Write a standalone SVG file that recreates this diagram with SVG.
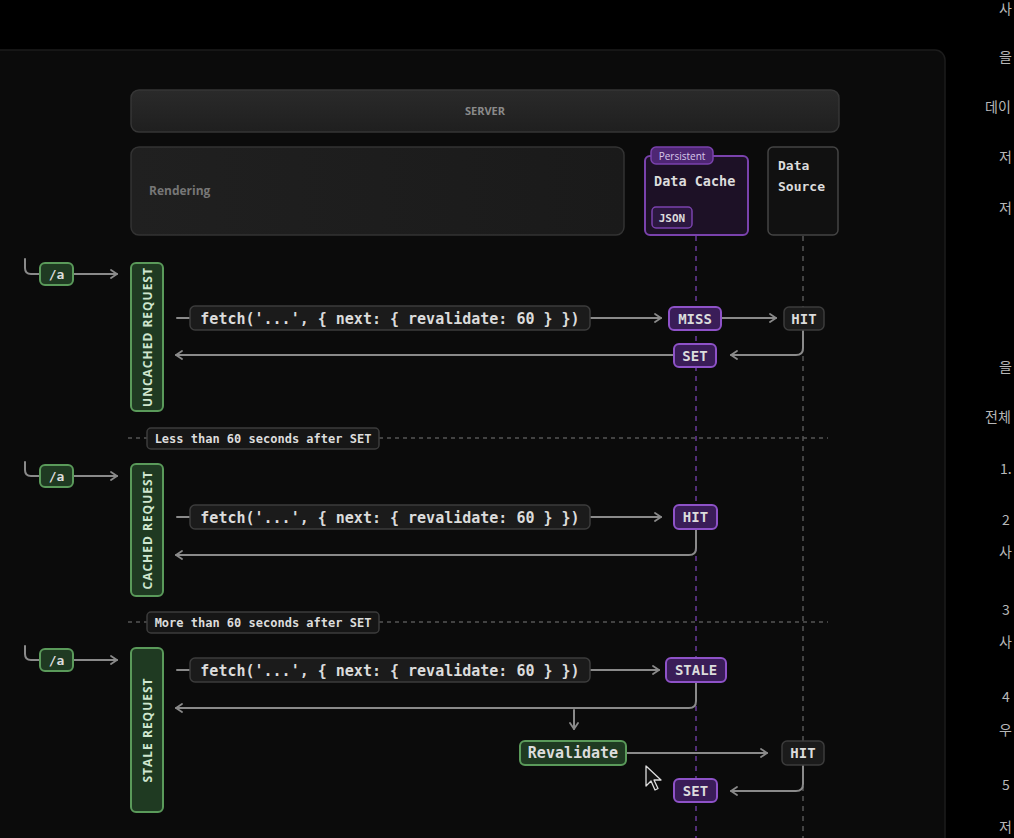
<svg xmlns="http://www.w3.org/2000/svg" width="1014" height="838" viewBox="0 0 1014 838">
<defs>
<marker id="arr" viewBox="0 0 10 10" refX="9" refY="5" markerWidth="10" markerHeight="10" markerUnits="userSpaceOnUse" orient="auto">
<path d="M3,1 L9,5 L3,9" fill="none" stroke="#8a8a8a" stroke-width="1.8" stroke-linecap="round" stroke-linejoin="round"/>
</marker>
<linearGradient id="srv" x1="0" y1="0" x2="0" y2="1">
<stop offset="0" stop-color="#2a2a2a"/><stop offset="1" stop-color="#1f1f1f"/>
</linearGradient>
<linearGradient id="rend" x1="0" y1="0" x2="1" y2="0">
<stop offset="0" stop-color="#202020"/><stop offset="1" stop-color="#1a1a1a"/>
</linearGradient>
</defs>
<style>
.mono{font-family:"DejaVu Sans Mono","Liberation Mono",monospace;font-weight:bold;fill:#dcdcdc}
.sans{font-family:"Open Sans","Liberation Sans",sans-serif;font-weight:bold}
.line{fill:none;stroke:#8a8a8a;stroke-width:2;stroke-linecap:round}
.grn{fill:#1f3a22;stroke:#5a9a5a;stroke-width:2}
.pur{fill:#3a1d58;stroke:#8e52c8;stroke-width:2}
.gry{fill:#1b1b1b;stroke:#3c3c3c;stroke-width:1.5}
.vlab{font-family:"Open Sans","Liberation Sans",sans-serif;font-weight:bold;font-size:12px;fill:#cfe6cf;letter-spacing:1px}
.kr{font-family:"Noto Sans CJK KR",sans-serif;font-size:14px;fill:#b8b8b8}
</style>
<rect width="1014" height="838" fill="#000"/>
<rect x="-12" y="50" width="957" height="810" rx="10" fill="#0b0b0b" stroke="#1c1c1c" stroke-width="1.5"/>

<g id="side-text">
<text class="kr" x="999" y="14">사</text>
<text class="kr" x="999" y="62">을</text>
<text class="kr" x="985" y="112">데이</text>
<text class="kr" x="999" y="162">저</text>
<text class="kr" x="999" y="213">저</text>
<text class="kr" x="999" y="372">을</text>
<text class="kr" x="985" y="422">전체</text>
<text class="kr" x="1000" y="474">1.</text>
<text class="kr" x="1002" y="525">2</text>
<text class="kr" x="999" y="557">사</text>
<text class="kr" x="1002" y="615">3</text>
<text class="kr" x="999" y="647">사</text>
<text class="kr" x="1002" y="702">4</text>
<text class="kr" x="999" y="735">우</text>
<text class="kr" x="1002" y="790">5</text>
<text class="kr" x="999" y="832">저</text>
</g>

<g id="lifelines">
<line x1="696" y1="236" x2="696" y2="838" stroke="#6a3a9a" stroke-width="1.5" stroke-dasharray="5 5"/>
<line x1="803" y1="236" x2="803" y2="838" stroke="#555" stroke-width="1.5" stroke-dasharray="5 5"/>
</g>

<g id="server">
<rect x="131" y="90" width="708" height="42" rx="8" fill="url(#srv)" stroke="#363636" stroke-width="1.5"/>
<text class="sans" x="485" y="115" font-size="11" fill="#8a8a8a" text-anchor="middle">SERVER</text>
</g>
<g id="rendering">
<rect x="131" y="147" width="493" height="88" rx="8" fill="url(#rend)" stroke="#333" stroke-width="1.5"/>
<text class="sans" x="149" y="195" font-size="12" fill="#777">Rendering</text>
</g>
<g id="data-cache">
<rect x="645" y="156" width="103" height="79" rx="5" fill="#1d1126" stroke="#7a42ad" stroke-width="2"/>
<rect x="651" y="147" width="62" height="17" rx="5" fill="#4e2673" stroke="#7a42ad" stroke-width="1.5"/>
<text x="682" y="159.5" font-family="Open Sans,Liberation Sans,sans-serif" font-size="10" fill="#d8c8ea" text-anchor="middle">Persistent</text>
<text class="mono" x="654" y="186" font-size="13.5">Data Cache</text>
<rect x="652" y="207" width="40" height="21" rx="4" fill="#2c1840" stroke="#7a42ad" stroke-width="1.5"/>
<text class="mono" x="672" y="222" font-size="11" text-anchor="middle" fill="#cfc0e0">JSON</text>
</g>
<g id="data-source">
<rect x="768" y="147" width="70" height="88" rx="5" fill="#111" stroke="#444" stroke-width="1.5"/>
<text class="mono" x="778" y="170" font-size="13">Data</text>
<text class="mono" x="778" y="191" font-size="13">Source</text>
</g>

<g id="connectors">
<path class="line" d="M25,259 L25,268 Q25,274 31,274 L40,274"/>
<line class="line" x1="73" y1="274" x2="117" y2="274" marker-end="url(#arr)"/>
<line class="line" x1="177" y1="318" x2="190" y2="318"/>
<line class="line" x1="590" y1="318" x2="661" y2="318" marker-end="url(#arr)"/>
<line class="line" x1="721" y1="318" x2="776" y2="318" marker-end="url(#arr)"/>
<path class="line" d="M803,330 L803,348 Q803,355 796,355 L731,355" marker-end="url(#arr)"/>
<line class="line" x1="674" y1="355" x2="176" y2="355" marker-end="url(#arr)"/>

<path class="line" d="M25,462 L25,470 Q25,476 31,476 L40,476"/>
<line class="line" x1="73" y1="476" x2="117" y2="476" marker-end="url(#arr)"/>
<line class="line" x1="177" y1="517" x2="190" y2="517"/>
<line class="line" x1="590" y1="517" x2="661" y2="517" marker-end="url(#arr)"/>
<path class="line" d="M696,529 L696,548 Q696,555 689,555 L176,555" marker-end="url(#arr)"/>

<path class="line" d="M25,646 L25,654 Q25,660 31,660 L40,660"/>
<line class="line" x1="73" y1="660" x2="117" y2="660" marker-end="url(#arr)"/>
<line class="line" x1="177" y1="670" x2="190" y2="670"/>
<line class="line" x1="590" y1="670" x2="659" y2="670" marker-end="url(#arr)"/>
<path class="line" d="M696,682 L696,701 Q696,708 689,708 L176,708" marker-end="url(#arr)"/>
<line class="line" x1="574" y1="710" x2="574" y2="729" marker-end="url(#arr)"/>
<line class="line" x1="626" y1="753" x2="767" y2="753" marker-end="url(#arr)"/>
<path class="line" d="M803,765 L803,784 Q803,791 796,791 L731,791" marker-end="url(#arr)"/>

<line x1="128" y1="438" x2="147" y2="438" stroke="#555" stroke-width="1.5" stroke-dasharray="4 4"/>
<line x1="379" y1="438" x2="828" y2="438" stroke="#555" stroke-width="1.5" stroke-dasharray="4 4"/>
<line x1="128" y1="622" x2="147" y2="622" stroke="#555" stroke-width="1.5" stroke-dasharray="4 4"/>
<line x1="379" y1="622" x2="828" y2="622" stroke="#555" stroke-width="1.5" stroke-dasharray="4 4"/>
</g>

<g id="sep1">
<rect x="147" y="428" width="232" height="21" rx="4" fill="#161616" stroke="#3c3c3c" stroke-width="1.5"/>
<text class="mono" x="263" y="442.5" font-size="12" text-anchor="middle" fill="#cccccc">Less than 60 seconds after SET</text>
</g>
<g id="sep2">
<rect x="147" y="612" width="232" height="21" rx="4" fill="#161616" stroke="#3c3c3c" stroke-width="1.5"/>
<text class="mono" x="263" y="626.5" font-size="12" text-anchor="middle" fill="#cccccc">More than 60 seconds after SET</text>
</g>

<g id="row1-path">
<rect class="grn" x="40" y="263" width="33" height="22" rx="5"/>
<text class="mono" x="56.5" y="279" font-size="13" text-anchor="middle" fill="#cfe6cf">/a</text>
</g>
<g id="uncached-request">
<rect class="grn" x="131" y="263" width="32" height="148" rx="5"/>
<text class="vlab" transform="translate(151.5,337) rotate(-90)" text-anchor="middle">UNCACHED REQUEST</text>
</g>
<g id="fetch1">
<rect class="gry" x="190" y="306" width="400" height="24" rx="5"/>
<text class="mono" x="390" y="323.5" font-size="15" text-anchor="middle">fetch('...', { next: { revalidate: 60 } })</text>
</g>
<g id="miss">
<rect class="pur" x="669" y="307" width="52" height="23" rx="5"/>
<text class="mono" x="695" y="323.5" font-size="14" text-anchor="middle">MISS</text>
</g>
<g id="hit1">
<rect class="gry" x="784" y="307" width="40" height="23" rx="5"/>
<text class="mono" x="804" y="323.5" font-size="14" text-anchor="middle">HIT</text>
</g>
<g id="set1">
<rect class="pur" x="674" y="344" width="42" height="23" rx="5"/>
<text class="mono" x="695" y="360.5" font-size="14" text-anchor="middle">SET</text>
</g>

<g id="row2-path">
<rect class="grn" x="40" y="465" width="33" height="22" rx="5"/>
<text class="mono" x="56.5" y="481" font-size="13" text-anchor="middle" fill="#cfe6cf">/a</text>
</g>
<g id="cached-request">
<rect class="grn" x="131" y="464" width="32" height="132" rx="5"/>
<text class="vlab" transform="translate(151.5,530) rotate(-90)" text-anchor="middle">CACHED REQUEST</text>
</g>
<g id="fetch2">
<rect class="gry" x="190" y="505" width="400" height="24" rx="5"/>
<text class="mono" x="390" y="522.5" font-size="15" text-anchor="middle">fetch('...', { next: { revalidate: 60 } })</text>
</g>
<g id="hit2">
<rect class="pur" x="674" y="505" width="43" height="24" rx="5"/>
<text class="mono" x="695.5" y="522" font-size="14" text-anchor="middle">HIT</text>
</g>

<g id="row3-path">
<rect class="grn" x="40" y="649" width="33" height="22" rx="5"/>
<text class="mono" x="56.5" y="665" font-size="13" text-anchor="middle" fill="#cfe6cf">/a</text>
</g>
<g id="stale-request">
<rect class="grn" x="131" y="648" width="32" height="164" rx="5"/>
<text class="vlab" transform="translate(151.5,730) rotate(-90)" text-anchor="middle">STALE REQUEST</text>
</g>
<g id="fetch3">
<rect class="gry" x="190" y="658" width="400" height="24" rx="5"/>
<text class="mono" x="390" y="675.5" font-size="15" text-anchor="middle">fetch('...', { next: { revalidate: 60 } })</text>
</g>
<g id="stale">
<rect class="pur" x="666" y="658" width="60" height="24" rx="5"/>
<text class="mono" x="696" y="675" font-size="14" text-anchor="middle">STALE</text>
</g>
<g id="revalidate">
<rect class="grn" x="520" y="741" width="106" height="24" rx="5"/>
<text class="mono" x="573" y="758" font-size="15" text-anchor="middle" fill="#d8ecd8">Revalidate</text>
</g>
<g id="hit3">
<rect class="gry" x="782" y="741" width="42" height="24" rx="5"/>
<text class="mono" x="803" y="758" font-size="14" text-anchor="middle">HIT</text>
</g>
<g id="set3">
<rect class="pur" x="674" y="779" width="43" height="23" rx="5"/>
<text class="mono" x="695.5" y="795.5" font-size="14" text-anchor="middle">SET</text>
</g>

<g id="cursor">
<path d="M646,766 L646,786 L651,781 L655,790 L658,788.5 L654,780 L661,780 Z" fill="#111" stroke="#ddd" stroke-width="1.3" stroke-linejoin="round"/>
</g>
</svg>
